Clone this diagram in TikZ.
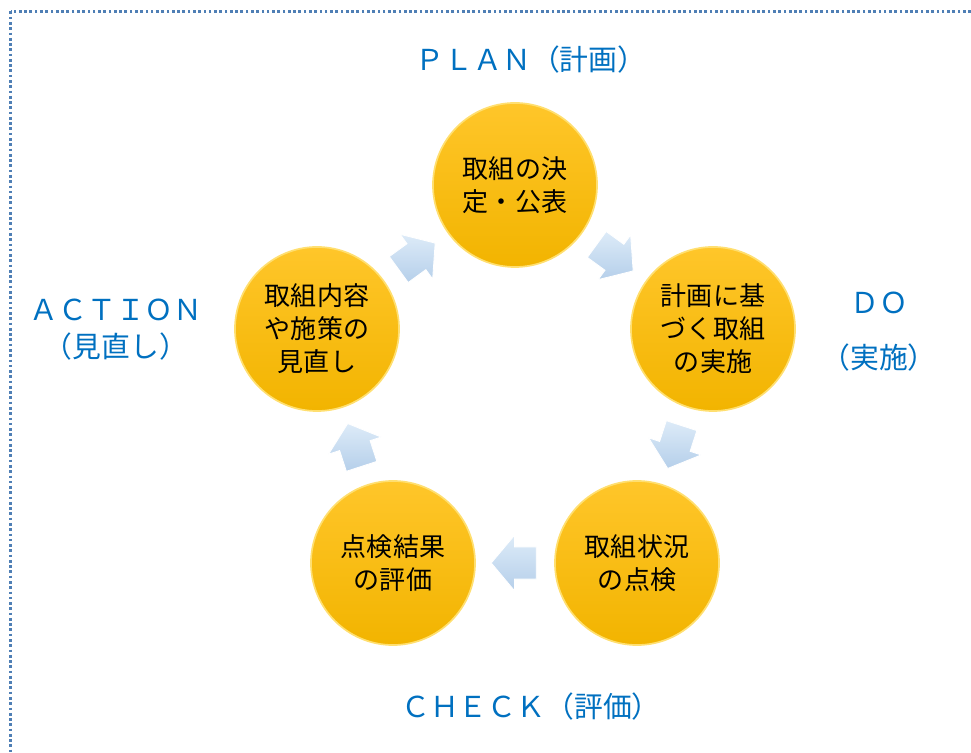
\documentclass[tikz,border=0pt]{standalone}
\usepackage{fontspec}
\setmainfont{Noto Sans CJK JP}
\usetikzlibrary{shapes.arrows}
\definecolor{labelblue}{HTML}{0070C0}
\definecolor{frameblue}{HTML}{4F7FB5}
\definecolor{goldtop}{HTML}{FFC62A}
\definecolor{goldbot}{HTML}{F2B400}
\definecolor{goldrim}{HTML}{FFDF70}
\definecolor{arrowtop}{HTML}{DDEBF8}
\definecolor{arrowbot}{HTML}{B5CFEA}

\begin{document}
\begin{tikzpicture}[x = 0.025cm, y = 0.025cm,
  ball/.style = {circle, minimum size = 4.1cm, inner sep = 0pt, top color = goldtop, bottom color = goldbot, draw = goldrim, line width = 1.2pt, align = center, font = \fontsize{18.5}{23.5}\selectfont},
  cyclearrow/.style = {single arrow, inner xsep = 0pt, inner ysep = 0.39cm, minimum height = 1.125cm, minimum width = 1.35cm, single arrow head extend = 0.29cm, single arrow tip angle = 100, top color = arrowtop, bottom color = arrowbot, draw = white, line width = 0.6pt, sloped, allow upside down, pos = 0.43},
  stage/.style = {color = labelblue, align = center, font = \fontsize{20.5}{24}\selectfont}]
\useasboundingbox (0,0) rectangle (971,753);
\clip (0,0) rectangle (971,753);
\draw[frameblue, line width = 1.9pt, dash pattern = on 1.9pt off 1.85pt] (10.5,741.5) rectangle (1000,-20);
\node[ball] (plan) at (515,568) {取組の決\\定・公表};
\node[ball] (do) at (713,424) {計画に基\\づく取組\\の実施};
\node[ball] (checkr) at (637,190) {取組状況\\の点検};
\node[ball] (checkl) at (393,190) {点検結果\\の評価};
\node[ball] (act) at (317,424) {取組内容\\や施策の\\見直し};
\path (act) -- node[cyclearrow] (a1) {} (plan);
\path (plan) -- node[cyclearrow] (a2) {} (do);
\path (do) -- node[cyclearrow] (a3) {} (checkr);
\path (checkr) -- node[cyclearrow] (a4) {} (checkl);
\path (checkl) -- node[cyclearrow] (a5) {} (act);
\node[stage] (plantxt) at (531,693) {ＰＬＡＮ（計画）};
\node[stage] (dotxt) at (879,450) {ＤＯ};
\node[stage] (dopar) at (879,395) {（実施）};
\node[stage] (acttxt) at (116,443) {ＡＣＴＩＯＮ};
\node[stage] (actpar) at (116,406) {（見直し）};
\node[stage] (checktxt) at (531,46) {ＣＨＥＣＫ（評価）};
\end{tikzpicture}
\end{document}
